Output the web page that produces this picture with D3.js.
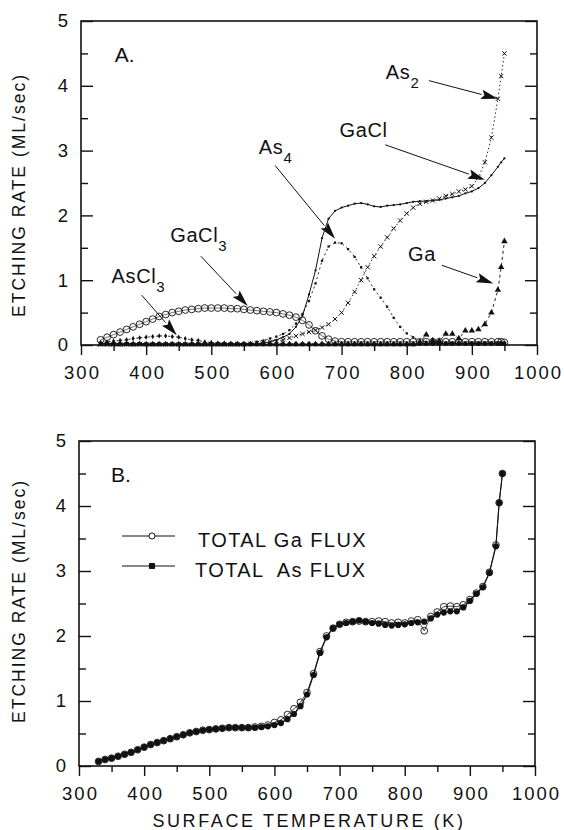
<!DOCTYPE html>
<html>
<head>
<meta charset="utf-8">
<script src="https://cdn.jsdelivr.net/npm/d3@7"></script>
<style>
	body { margin: 0; background: #fff; }
	svg { display: block; }
	text { font-family: 'Liberation Sans', Arial, Helvetica, sans-serif; fill: #111; }
</style>
</head>
<body>
<svg></svg>
<script>
// surface temperature (K) of every measured point
const temps = [
	330, 340, 350, 360, 370, 380, 390, 400, 410, 420,
	430, 440, 450, 460, 470, 480, 490, 500, 510, 520,
	530, 540, 550, 560, 570, 580, 590, 600, 610, 620,
	630, 640, 650, 660, 670, 680, 690, 700, 710, 720,
	730, 740, 750, 760, 770, 780, 790, 800, 810, 820,
	830, 840, 850, 860, 870, 880, 890, 900, 910, 920,
	930, 940, 945, 950
];
// panel A, etching rate by product (ML/sec)
const gacl3Rate = [
	0.08, 0.12, 0.16, 0.20, 0.24, 0.28, 0.32, 0.36, 0.40, 0.44,
	0.47, 0.50, 0.52, 0.54, 0.55, 0.56, 0.57, 0.57, 0.57, 0.57,
	0.56, 0.56, 0.55, 0.54, 0.53, 0.52, 0.51, 0.50, 0.48, 0.46,
	0.43, 0.38, 0.31, 0.22, 0.14, 0.09, 0.06, 0.05, 0.05, 0.05,
	0.05, 0.05, 0.05, 0.05, 0.05, 0.05, 0.05, 0.05, 0.05, 0.05,
	0.05, 0.05, 0.05, 0.05, 0.05, 0.05, 0.05, 0.05, 0.05, 0.05,
	0.05, 0.05, 0.05, 0.04
];
const ascl3Rate = [
	0.04, 0.05, 0.06, 0.07, 0.08, 0.10, 0.11, 0.12, 0.13, 0.14,
	0.14, 0.13, 0.12, 0.10, 0.08, 0.07, 0.05, 0.04, 0.03, 0.03,
	0.02, 0.02, 0.02, 0.02, 0.02, 0.02, 0.02, 0.02, 0.02, 0.02,
	0.02, 0.02, 0.02, 0.02, 0.02, 0.02, 0.02, 0.02, 0.02, 0.02,
	0.02, 0.02, 0.02, 0.02, 0.02, 0.02, 0.02, 0.02, 0.02, 0.02,
	0.02, 0.02, 0.02, 0.02, 0.02, 0.02, 0.02, 0.02, 0.02, 0.02,
	0.02, 0.02, 0.02, 0.02
];
const as4Rate = [
	0.01, 0.01, 0.01, 0.01, 0.01, 0.01, 0.01, 0.01, 0.01, 0.01,
	0.01, 0.01, 0.01, 0.01, 0.01, 0.01, 0.01, 0.01, 0.01, 0.01,
	0.01, 0.01, 0.02, 0.03, 0.05, 0.07, 0.10, 0.13, 0.17, 0.23,
	0.33, 0.48, 0.68, 0.95, 1.30, 1.52, 1.58, 1.57, 1.48, 1.36,
	1.20, 1.03, 0.86, 0.73, 0.59, 0.42, 0.28, 0.18, 0.12, 0.07,
	0.05, 0.04, 0.04, 0.04, 0.04, 0.04, 0.04, 0.04, 0.04, 0.04,
	0.04, 0.04, 0.04, 0.04
];
const gaclRate = [
	0.02, 0.02, 0.02, 0.02, 0.02, 0.02, 0.02, 0.02, 0.02, 0.02,
	0.02, 0.02, 0.02, 0.02, 0.02, 0.02, 0.02, 0.02, 0.02, 0.02,
	0.02, 0.02, 0.02, 0.02, 0.02, 0.03, 0.05, 0.08, 0.12, 0.17,
	0.28, 0.45, 0.78, 1.15, 1.65, 1.95, 2.07, 2.12, 2.15, 2.18,
	2.19, 2.17, 2.14, 2.13, 2.15, 2.16, 2.17, 2.19, 2.21, 2.22,
	2.22, 2.23, 2.24, 2.26, 2.28, 2.30, 2.34, 2.37, 2.42, 2.50,
	2.62, 2.75, 2.82, 2.88
];
const as2Rate = [
	0.01, 0.01, 0.01, 0.01, 0.01, 0.01, 0.01, 0.01, 0.01, 0.01,
	0.01, 0.01, 0.01, 0.01, 0.01, 0.01, 0.01, 0.01, 0.01, 0.01,
	0.01, 0.01, 0.01, 0.02, 0.03, 0.04, 0.05, 0.06, 0.08, 0.11,
	0.14, 0.17, 0.20, 0.23, 0.27, 0.32, 0.40, 0.50, 0.65, 0.82,
	1.00, 1.20, 1.37, 1.52, 1.66, 1.80, 1.92, 2.03, 2.12, 2.18,
	2.21, 2.23, 2.26, 2.30, 2.33, 2.37, 2.40, 2.45, 2.58, 2.82,
	3.20, 3.80, 4.15, 4.50
];
const gaRate = [
	0.01, 0.01, 0.01, 0.01, 0.01, 0.01, 0.01, 0.01, 0.01, 0.01,
	0.01, 0.01, 0.01, 0.01, 0.01, 0.01, 0.01, 0.01, 0.01, 0.01,
	0.01, 0.01, 0.01, 0.01, 0.01, 0.01, 0.01, 0.01, 0.01, 0.01,
	0.01, 0.01, 0.01, 0.01, 0.01, 0.01, 0.01, 0.01, 0.01, 0.01,
	0.01, 0.01, 0.01, 0.01, 0.01, 0.01, 0.01, 0.01, 0.01, 0.04,
	0.16, 0.07, 0.06, 0.17, 0.17, 0.10, 0.22, 0.22, 0.24, 0.32,
	0.50, 0.85, 1.20, 1.60
];
const baseRate = [
	0.02, 0.02, 0.02, 0.01, 0.02, 0.01, 0.02, 0.01, 0.01, 0.01,
	0.01, 0.01, 0.01, 0.01, 0.01, 0.01, 0.01, 0.01, 0.01, 0.01,
	0.01, 0.01, 0.01, 0.01, 0.01, 0.01, 0.01, 0.01, 0.01, 0.01,
	0.01, 0.01, 0.01, 0.01, 0.01, 0.01, 0.01, 0.01, 0.01, 0.01,
	0.01, 0.01, 0.01, 0.01, 0.01, 0.01, 0.01, 0.01, 0.01, 0.02,
	0.02, 0.02, 0.02, 0.02, 0.02, 0.02, 0.02, 0.02, 0.02, 0.02,
	0.02, 0.02, 0.02, 0.02
];
// panel B, total fluxes (ML/sec)
const totalGa = [
	0.07, 0.10, 0.12, 0.15, 0.18, 0.21, 0.25, 0.29, 0.33, 0.36,
	0.39, 0.42, 0.45, 0.48, 0.51, 0.53, 0.55, 0.56, 0.57, 0.58,
	0.59, 0.59, 0.59, 0.59, 0.60, 0.61, 0.63, 0.67, 0.71, 0.79,
	0.88, 0.98, 1.13, 1.42, 1.76, 2.00, 2.12, 2.18, 2.21, 2.22,
	2.23, 2.22, 2.22, 2.23, 2.22, 2.20, 2.21, 2.20, 2.23, 2.25,
	2.08, 2.30, 2.37, 2.45, 2.46, 2.45, 2.48, 2.56, 2.66, 2.76,
	2.98, 3.40, 4.05, 4.50
];
const totalAs = [
	0.07, 0.10, 0.12, 0.15, 0.18, 0.21, 0.25, 0.29, 0.33, 0.36,
	0.39, 0.42, 0.45, 0.48, 0.51, 0.53, 0.55, 0.56, 0.57, 0.58,
	0.59, 0.59, 0.59, 0.59, 0.59, 0.60, 0.61, 0.63, 0.66, 0.72,
	0.80, 0.92, 1.10, 1.40, 1.74, 1.98, 2.12, 2.18, 2.20, 2.22,
	2.24, 2.22, 2.20, 2.19, 2.17, 2.16, 2.17, 2.18, 2.20, 2.21,
	2.22, 2.27, 2.33, 2.36, 2.38, 2.38, 2.44, 2.54, 2.65, 2.75,
	2.97, 3.38, 4.05, 4.50
];
const xTicks = [300, 400, 500, 600, 700, 800, 900, 1000];
const xMinor = [350, 450, 550, 650, 750, 850, 950];
const yTicks = [0, 1, 2, 3, 4, 5];
const yMinor = [0.5, 1.5, 2.5, 3.5, 4.5];

const width = 564,
	height = 830;
const svg = d3.select('svg').attr('width', width).attr('height', height);
const ink = '#111';

function makePanel(left, right, top, bottom) {
	const x = d3.scaleLinear().domain([ 300, 1000 ]).range([ left, right ]);
	const y = d3.scaleLinear().domain([ 0, 5 ]).range([ bottom, top ]);
	const tidy = (g) => {
		g.select('.domain').remove();
		g.selectAll('line').attr('stroke', ink).attr('stroke-width', 1.4);
		g.selectAll('text').attr('fill', ink);
		g.attr('font-family', null).attr('font-size', '18.5px').attr('letter-spacing', '2px');
	};
	svg.append('g').attr('transform', 'translate(0,' + bottom + ')')
		.call(d3.axisBottom(x).tickValues(xTicks).tickSize(10).tickPadding(11).tickFormat(d3.format('d'))).call(tidy)
		.selectAll('text').attr('dx', '1px');
	svg.append('g').attr('transform', 'translate(0,' + bottom + ')')
		.call(d3.axisBottom(x).tickValues(xMinor).tickSize(6).tickFormat('')).call(tidy);
	svg.append('g').attr('transform', 'translate(' + left + ',0)')
		.call(d3.axisLeft(y).tickValues(yTicks).tickSize(-12).tickPadding(11).tickFormat(d3.format('d'))).call(tidy);
	svg.append('g').attr('transform', 'translate(' + left + ',0)')
		.call(d3.axisLeft(y).tickValues(yMinor).tickSize(-7).tickFormat('')).call(tidy);
	svg.append('g').attr('transform', 'translate(' + right + ',0)')
		.call(d3.axisRight(y).tickValues(yTicks).tickSize(-12).tickFormat('')).call(tidy);
	svg.append('g').attr('transform', 'translate(' + right + ',0)')
		.call(d3.axisRight(y).tickValues(yMinor).tickSize(-7).tickFormat('')).call(tidy);
	svg.append('rect')
		.attr('x', left).attr('y', top)
		.attr('width', right - left).attr('height', bottom - top)
		.attr('fill', 'none').attr('stroke', ink).attr('stroke-width', 1.6);
	return { x, y };
}

function drawSeries(p, vals, opt) {
	const pts = temps.map((t, i) => [ t, vals[i] ]);
	const line = d3.line().x((d) => p.x(d[0])).y((d) => p.y(d[1]));
	svg.append('path').datum(pts)
		.attr('d', line)
		.attr('fill', 'none')
		.attr('stroke', ink)
		.attr('stroke-width', opt.lineWidth || 0.9)
		.attr('stroke-dasharray', opt.dash || null);
	const sym = d3.symbol(opt.symbol, opt.size);
	svg.append('g').selectAll('path')
		.data(pts)
		.enter()
		.append('path')
		.attr('transform', (d) => 'translate(' + p.x(d[0]) + ',' + p.y(d[1]) + ')')
		.attr('d', sym)
		.attr('fill', opt.fill)
		.attr('stroke', opt.stroke || 'none')
		.attr('stroke-width', opt.strokeWidth || 1);
}

function yLabel(cx, cy) {
	svg.append('text')
		.attr('transform', 'translate(' + cx + ',' + cy + ') rotate(-90)')
		.attr('text-anchor', 'middle')
		.attr('font-size', '17.5px')
		.attr('letter-spacing', '2px')
		.text('ETCHING RATE (ML/sec)');
}

function note(p, n) {
	const t = svg.append('text')
		.attr('x', p.x(n.at[0])).attr('y', p.y(n.at[1]))
		.attr('font-size', '20px')
		.attr('letter-spacing', '0.6px')
		.text(n.label);
	if (n.sub) t.append('tspan').attr('dy', 9).attr('font-size', '15px').text(n.sub);
	const x1 = p.x(n.from[0]), y1 = p.y(n.from[1]);
	const x2 = p.x(n.to[0]), y2 = p.y(n.to[1]);
	const len = Math.hypot(x2 - x1, y2 - y1);
	const ux = (x2 - x1) / len, uy = (y2 - y1) / len;
	const hl = 17, hw = 4.8;
	const bx = x2 - ux * hl, by = y2 - uy * hl;
	svg.append('line')
		.attr('x1', x1).attr('y1', y1).attr('x2', bx).attr('y2', by)
		.attr('stroke', ink).attr('stroke-width', 1);
	svg.append('path')
		.attr('d', 'M' + x2 + ',' + y2 + 'L' + (bx - uy * hw) + ',' + (by + ux * hw) +
			'L' + (bx + ux * 3) + ',' + (by + uy * 3) + 'L' + (bx + uy * hw) + ',' + (by - ux * hw) + 'Z')
		.attr('fill', ink);
}

// ---------- panel A ----------
const pa = makePanel(81, 537, 21, 345);
drawSeries(pa, baseRate, { symbol: d3.symbolSquare, size: 14, fill: ink, lineWidth: 1.2 });
drawSeries(pa, ascl3Rate, { symbol: d3.symbolDiamond, size: 8, fill: ink, dash: '2,2' });
drawSeries(pa, as4Rate, { symbol: d3.symbolSquare, size: 5, fill: ink, dash: '2,3' });
drawSeries(pa, gaclRate, { symbol: d3.symbolCircle, size: 4, fill: ink, lineWidth: 1 });
drawSeries(pa, as2Rate, { symbol: d3.symbolTimes || d3.symbolX, size: 14, fill: 'none', stroke: ink, strokeWidth: 1, dash: '1.5,2.5' });
drawSeries(pa, gaRate, { symbol: d3.symbolTriangle, size: 18, fill: ink, dash: '3,3' });
drawSeries(pa, gacl3Rate, { symbol: d3.symbolCircle, size: 36, fill: 'none', stroke: ink, strokeWidth: 0.9, lineWidth: 0.6 });

const notesA = [
	{ label: 'As', sub: '2', at: [ 768, 4.10 ], from: [ 834, 4.08 ], to: [ 940, 3.80 ] },
	{ label: 'GaCl', at: [ 398, 3.21 ], from: [ 767, 3.09 ], to: [ 920, 2.55 ] },
	{ label: 'As', sub: '4', at: [ 573, 2.95 ], from: [ 598, 2.77 ], to: [ 690, 1.64 ] },
	{ label: 'GaCl', sub: '3', at: [ 437, 1.59 ], from: [ 484, 1.37 ], to: [ 556, 0.60 ] },
	{ label: 'AsCl', sub: '3', at: [ 347, 0.95 ], from: [ 393, 0.77 ], to: [ 447, 0.15 ] },
	{ label: 'Ga', at: [ 802, 1.30 ], from: [ 854, 1.23 ], to: [ 933, 0.95 ] }
];
notesA[1].at = [ 697, 3.21 ];
notesA.forEach((n) => note(pa, n));
svg.append('text').attr('x', pa.x(352)).attr('y', pa.y(4.37)).attr('font-size', '21px').text('A.');
yLabel(25, 195);

// ---------- panel B ----------
const pb = makePanel(79, 535, 441, 766);
drawSeries(pb, totalAs, { symbol: d3.symbolCircle, size: 30, fill: ink, lineWidth: 1.1 });
drawSeries(pb, totalGa, { symbol: d3.symbolCircle, size: 36, fill: 'none', stroke: ink, strokeWidth: 0.9, lineWidth: 0.8 });
svg.append('text').attr('x', pb.x(349)).attr('y', pb.y(4.37)).attr('font-size', '21px').text('B.');

const legend = [
	{ name: 'TOTAL Ga FLUX', fill: 'none', size: 30, dy: 0 },
	{ name: 'TOTAL  As FLUX', fill: ink, size: 26, dy: 30 }
];
legend.forEach((l) => {
	const ly = 536 + l.dy;
	svg.append('line').attr('x1', 122).attr('x2', 175).attr('y1', ly).attr('y2', ly)
		.attr('stroke', ink).attr('stroke-width', 1);
	svg.append('path').attr('transform', 'translate(152,' + ly + ')')
		.attr('d', d3.symbol(l.fill === 'none' ? d3.symbolCircle : d3.symbolSquare, l.size))
		.attr('fill', l.fill === 'none' ? '#fff' : ink).attr('stroke', ink);
	svg.append('text').attr('x', l.dy ? 195 : 198).attr('y', ly + 11)
		.attr('font-size', '20px').attr('letter-spacing', '1.4px')
		.style('white-space', 'pre')
		.text(l.name);
});
yLabel(25, 601);
svg.append('text')
	.attr('x', 309).attr('y', 827)
	.attr('text-anchor', 'middle')
	.attr('font-size', '18px')
	.attr('letter-spacing', '2.6px')
	.text('SURFACE TEMPERATURE (K)');
</script>
</body>
</html>
